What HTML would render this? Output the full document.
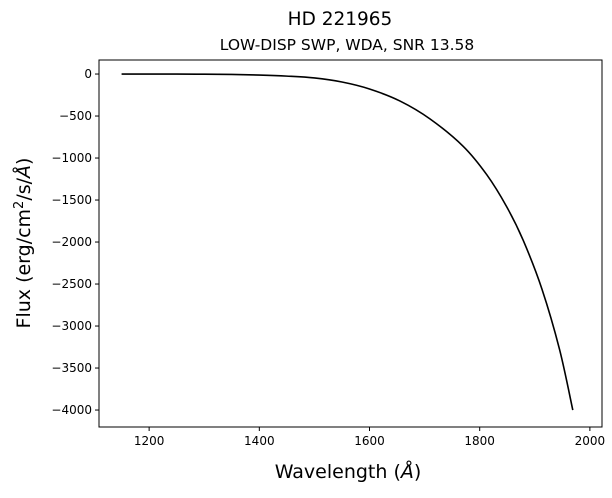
<!DOCTYPE html>
<html><head><meta charset="utf-8"><style>
body{margin:0;background:#fff;font-family:"Liberation Sans","DejaVu Sans",sans-serif}
</style></head><body>
<svg width="612" height="493" xmlns="http://www.w3.org/2000/svg" font-family="DejaVu Sans, Liberation Sans, sans-serif">
<text x="340" y="25" font-size="18.5" text-anchor="middle">HD 221965</text>
<text x="347" y="50" font-size="15.5" text-anchor="middle">LOW-DISP SWP, WDA, SNR 13.58</text>
<g id="plot"></g>
<text x="348" y="478" font-size="19" text-anchor="middle">Wavelength (<tspan font-style="italic">Å</tspan>)</text>
<text transform="translate(30,243) rotate(-90)" font-size="19" text-anchor="middle">Flux (erg/cm<tspan baseline-shift="super" font-size="13">2</tspan>/s/<tspan font-style="italic">Å</tspan>)</text>
</svg>
<script>
const wavelengths=[1150,1250,1300,1350,1400,1450,1500,1550,1600,1655,1710,1770,1813,1849,1879,1913,1945,1969];
const flux=[0,-1,-2,-5,-12,-25,-47,-95,-178,-320,-535,-860,-1200,-1580,-1980,-2560,-3280,-4000];
const xTicks=[1200,1400,1600,1800,2000];
const yTicks=[0,-500,-1000,-1500,-2000,-2500,-3000,-3500,-4000];
const L=99,R=602,T=60,B=427,x0=1109,x1=2022,y0=-4202,y1=167;
const sx=v=>L+(v-x0)/(x1-x0)*(R-L), sy=v=>B-(v-y0)/(y1-y0)*(B-T);
const ns="http://www.w3.org/2000/svg",g=document.getElementById('plot');
function mk(t,a){const e=document.createElementNS(ns,t);for(const k in a)e.setAttribute(k,a[k]);g.appendChild(e);return e;}
const fr=mk('rect',{x:L,y:T,width:R-L,height:B-T,fill:'none',stroke:'#000','stroke-width':1});


xTicks.forEach(v=>{const x=sx(v);
const l=mk('line',{x1:x,x2:x,y1:B,y2:B+4,stroke:'#000'});


const t=mk('text',{x:x,y:B+18,'font-size':12,'text-anchor':'middle'});t.textContent=v;

});
yTicks.forEach(v=>{const y=sy(v);
const l=mk('line',{x1:L-4,x2:L,y1:y,y2:y,stroke:'#000'});


const t=mk('text',{x:L-7,y:y+4,'font-size':12,'text-anchor':'end'});t.textContent=String(v).replace('-','\u2212');

});
const P=wavelengths.map((w,i)=>[sx(w),sy(flux[i])]);
let d='M'+P[0][0]+','+P[0][1];
for(let i=0;i<P.length-1;i++){
const p0=P[Math.max(0,i-1)],p1=P[i],p2=P[i+1],p3=P[Math.min(P.length-1,i+2)];
const c1=[p1[0]+(p2[0]-p0[0])/6,p1[1]+(p2[1]-p0[1])/6],c2=[p2[0]-(p3[0]-p1[0])/6,p2[1]-(p3[1]-p1[1])/6];
d+=' C'+c1+' '+c2+' '+p2;}
const p=mk('path',{d:d,fill:'none',stroke:'#000','stroke-width':1.6,'stroke-linejoin':'round'});


</script>
</body></html>
